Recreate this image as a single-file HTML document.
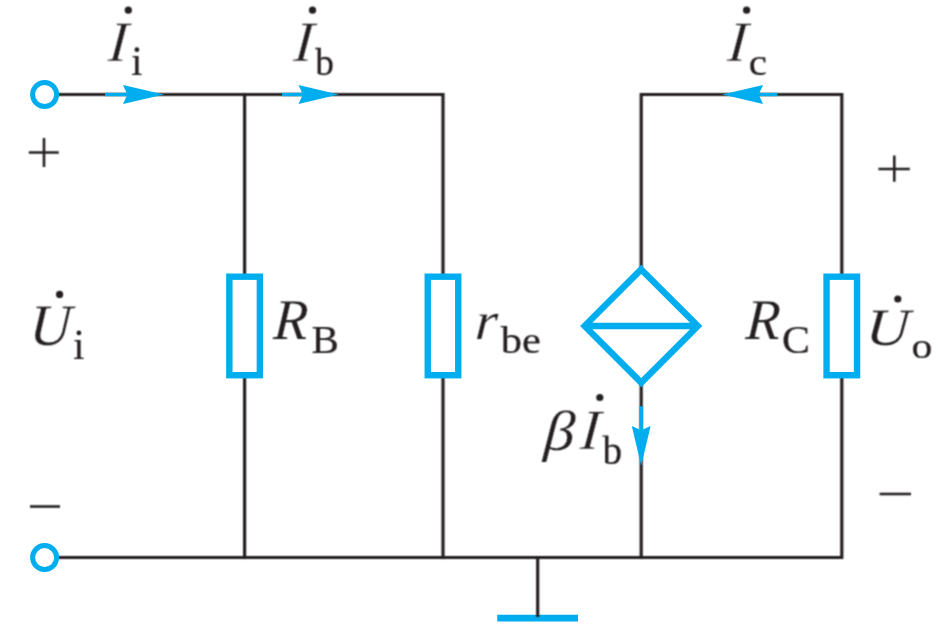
<!DOCTYPE html>
<html><head><meta charset="utf-8"><title>Circuit</title><style>
html,body{margin:0;padding:0;background:#fff;}
svg{display:block;}
text{font-family:"Liberation Serif",serif;font-size:100px;fill:#231f20;}
text.it{font-style:italic;}
</style></head><body>
<svg width="940" height="628" viewBox="0 0 940 628">
<defs><filter id="bl" x="0" y="0" width="940" height="628" filterUnits="userSpaceOnUse" color-interpolation-filters="sRGB"><feConvolveMatrix order="3" kernelMatrix="0.0625 0.1250 0.0625 0.1250 0.2500 0.1250 0.0625 0.1250 0.0625" edgeMode="none" preserveAlpha="false"/></filter></defs>
<rect width="940" height="628" fill="#fff"/>
<g filter="url(#bl)"><g fill="none" stroke="#231f20" stroke-width="3.2" stroke-linejoin="miter" stroke-linecap="square">
<path d="M57 94.5 H443.0 V276.7"/>
<path d="M244.6 94.5 V276.7"/>
<path d="M244.6 375.2 V557.5"/>
<path d="M443.0 375.2 V557.5"/>
<path d="M641.2 269.5 V94.5 H841.8 V276.7"/>
<path d="M641.2 382.5 V557.5"/>
<path d="M841.8 375.2 V557.5 H57"/>
</g></g>
<g fill="none" stroke="#00aeef" stroke-width="3.4"><line x1="105" y1="94.5" x2="130.3" y2="94.5" /><line x1="282" y1="94.5" x2="305.8" y2="94.5" /><line x1="777.4" y1="94.5" x2="755.7" y2="94.5" /><line x1="641.2" y1="406.3" x2="641.2" y2="433.3" /></g>
<g fill="#00aeef"><polygon points="164.0,94.5 123.0,85.1 127.3,94.5 123.0,103.9"/><polygon points="338.6,94.5 298.5,85.1 302.8,94.5 298.5,103.9"/><polygon points="722.4,94.5 763.0,85.1 758.7,94.5 763.0,103.9"/><polygon points="641.2,465.8 631.8000000000001,426.0 641.2,430.3 650.6,426.0"/></g>
<g fill="#fff" stroke="#00aeef" stroke-width="6.4" stroke-linejoin="miter"><rect x="229.35" y="276.7" width="30.5" height="98.5"/><rect x="427.75" y="276.7" width="30.5" height="98.5"/><rect x="826.55" y="276.7" width="30.5" height="98.5"/><path d="M641.2 269.4 L697.8 326.0 L641.2 382.6 L584.6 326.0 Z M584.6 326.0 H697.8"/></g>
<line x1="497.2" y1="618.2" x2="578" y2="618.2" stroke="#00aeef" stroke-width="6.8"/>
<g fill="#fff" stroke="#00aeef" stroke-width="5"><circle cx="44.6" cy="94.5" r="12"/><circle cx="44.6" cy="557.6" r="12"/></g>
<g filter="url(#bl)">
<path d="M537.7 557.5 V617" stroke="#231f20" stroke-width="3.2" fill="none"/>
<g stroke="#231f20" stroke-width="2.6" fill="none">
<path d="M28.8 152.5 H58.8 M44 138 V167"/>
<path d="M878.4 169 H909.8 M894.3 155.4 V181.8"/>
<path d="M30 506.5 H60"/>
<path d="M879.6 494 H911"/>
</g>
<g fill="#231f20"><circle cx="128.3" cy="10.2" r="3.6"/><circle cx="312.5" cy="10.2" r="3.6"/><circle cx="746.6" cy="10.2" r="3.6"/><circle cx="59.6" cy="294.4" r="3.6"/><circle cx="897.8" cy="299.0" r="3.6"/><circle cx="599.8" cy="397.5" r="3.6"/><circle cx="136.9" cy="49.7" r="2.4"/><circle cx="78.9" cy="332.9" r="2.4"/></g>
<text class="it" id="I_i" transform="translate(107.13,61.20) scale(0.5836,0.5712) skewX(-4.57)" style="stroke:#fff;stroke-width:0.87px">I</text>
<text class="rm" id="sub_i1" transform="translate(131.36,75.20) scale(0.3995,0.3900)" style="stroke:#231f20;stroke-width:0.63px">ı</text>
<text class="it" id="I_b" transform="translate(292.63,61.20) scale(0.5836,0.5712) skewX(-4.57)" style="stroke:#fff;stroke-width:0.87px">I</text>
<text class="rm" id="sub_b1" transform="translate(315.30,75.12) scale(0.3745,0.3852)" style="stroke:#231f20;stroke-width:0.66px">b</text>
<text class="it" id="I_c" transform="translate(726.43,61.20) scale(0.5906,0.5712) skewX(-4.57)" style="stroke:#fff;stroke-width:0.86px">I</text>
<text class="rm" id="sub_c" transform="translate(748.85,75.14) scale(0.4080,0.3722)" style="stroke:#231f20;stroke-width:0.64px">c</text>
<text class="it" id="U_i" transform="translate(28.66,345.33) scale(0.5755,0.5869) skewX(-3.43)" style="stroke:#fff;stroke-width:0.43px">U</text>
<text class="rm" id="sub_i2" transform="translate(73.25,358.70) scale(0.4037,0.3922)" style="stroke:#231f20;stroke-width:0.63px">ı</text>
<text class="it" id="R_B" transform="translate(272.70,339.10) scale(0.5615,0.5758) skewX(-3.43)" style="stroke:#fff;stroke-width:0.35px">R</text>
<text class="rm" id="sub_B" transform="translate(311.42,353.08) scale(0.4106,0.3999)" style="stroke:#231f20;stroke-width:0.62px">B</text>
<text class="it" id="r_be" transform="translate(474.58,339.10) scale(0.5717,0.5369) skewX(-3.43)" style="stroke:#fff;stroke-width:0.36px">r</text>
<text class="rm" id="sub_be" transform="translate(500.80,353.03) scale(0.4235,0.3809)" style="stroke:#231f20;stroke-width:0.62px">be</text>
<text class="it" id="R_C" transform="translate(744.90,339.10) scale(0.5631,0.5773) skewX(-3.43)" style="stroke:#fff;stroke-width:0.35px">R</text>
<text class="rm" id="sub_C" transform="translate(782.08,353.21) scale(0.4187,0.4019)" style="stroke:#231f20;stroke-width:0.61px">C</text>
<text class="it" id="U_o" transform="translate(865.07,345.19) scale(0.6023,0.5252) skewX(-3.43)" style="stroke:#fff;stroke-width:0.44px">U</text>
<text class="rm" id="sub_o" transform="translate(911.51,358.35) scale(0.4176,0.3576)" style="stroke:#231f20;stroke-width:0.64px">o</text>
<text class="it" id="beta" transform="translate(543.27,449.90) scale(0.6129,0.5638) skewX(-3.43)" style="stroke:#fff;stroke-width:0.42px">β</text>
<text class="it" id="I_bb" transform="translate(579.23,449.30) scale(0.5906,0.5681) skewX(-4.57)" style="stroke:#fff;stroke-width:0.86px">I</text>
<text class="rm" id="sub_b2" transform="translate(602.60,463.71) scale(0.3918,0.3965)" style="stroke:#231f20;stroke-width:0.63px">b</text>
</g>
</svg>
</body></html>
